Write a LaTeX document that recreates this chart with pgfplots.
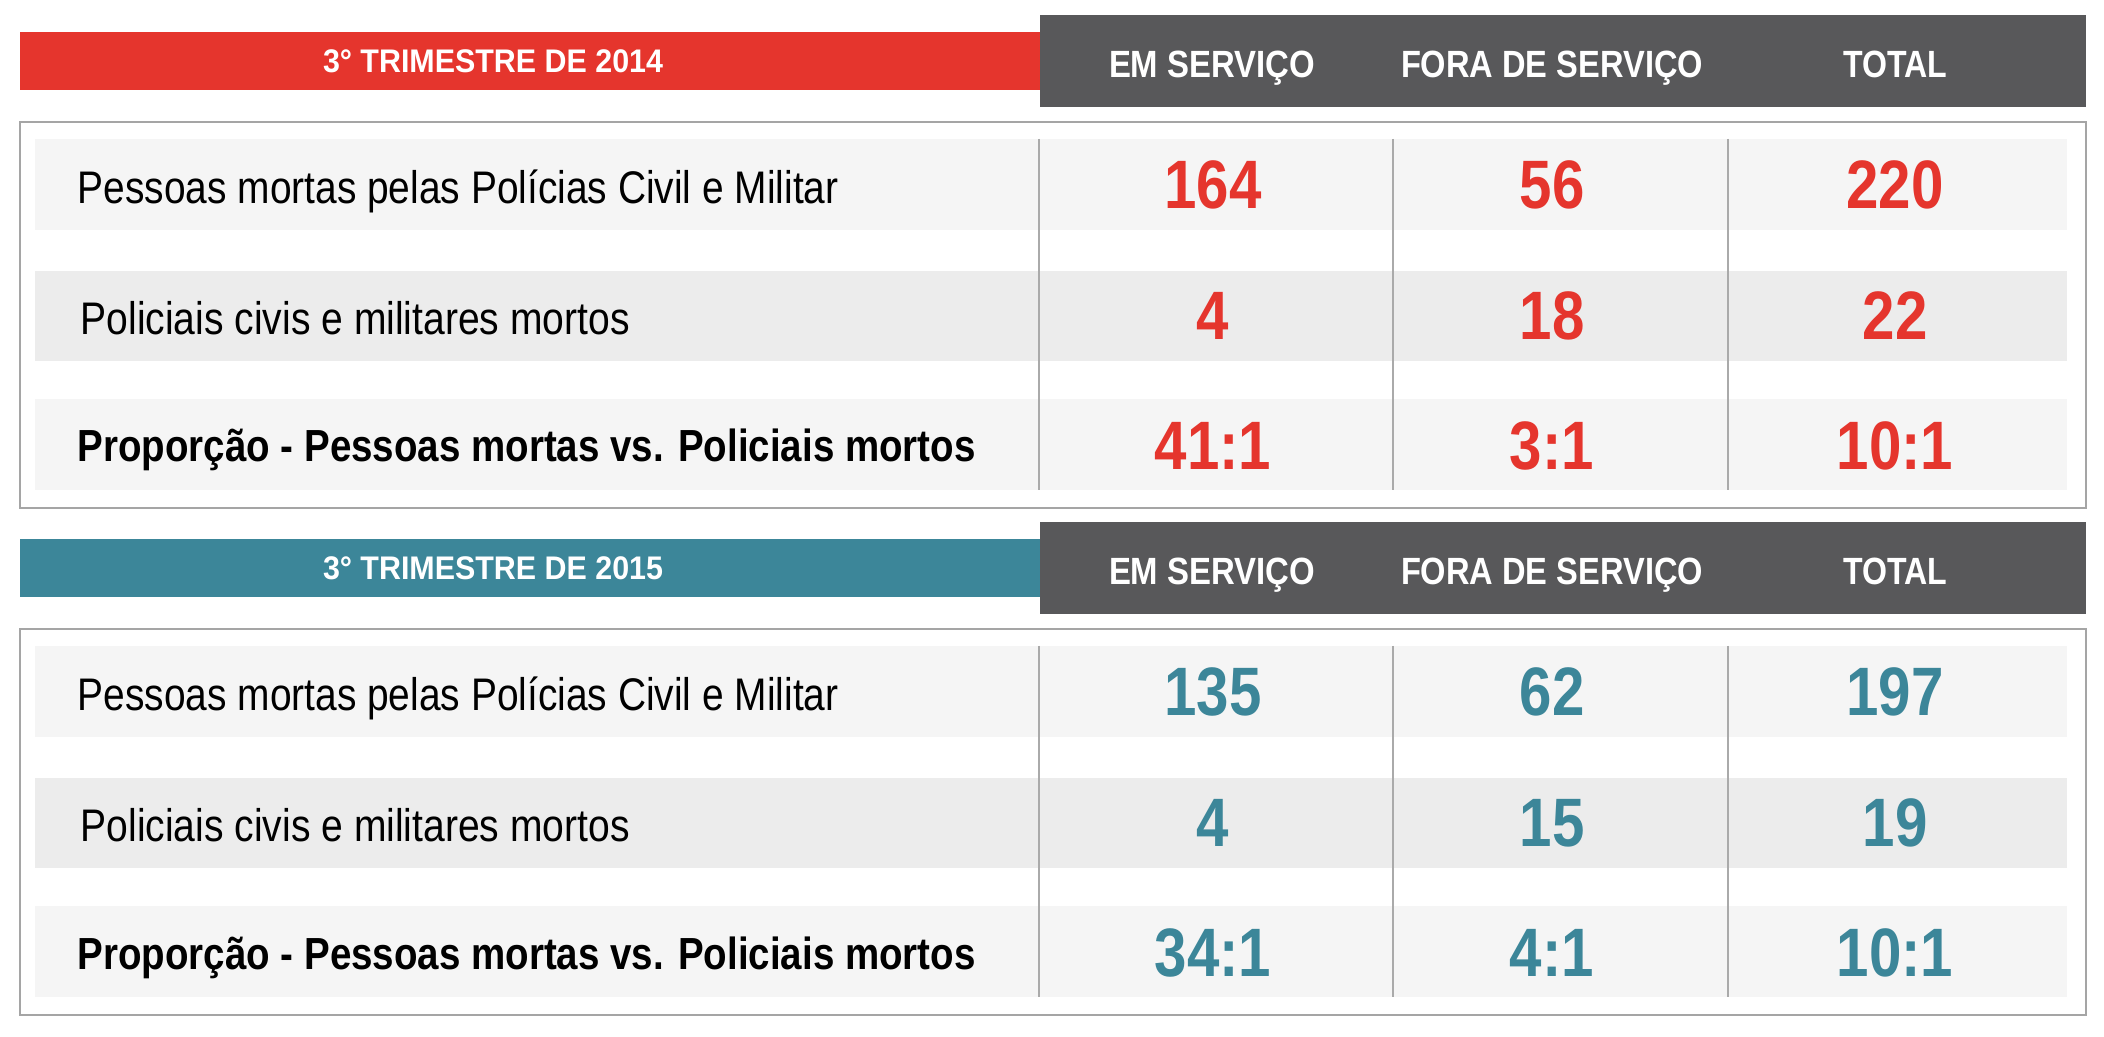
\documentclass[border=0pt]{standalone}
\usepackage{pgfplots}
\pgfplotsset{compat=1.18}
\usepackage{pgfplotstable}
\usepackage{graphicx}
\usepackage{fontspec}
\setmainfont{Liberation Sans}
\newfontfamily\numfont[FakeStretch=0.85]{Liberation Sans}
\definecolor{cred}{RGB}{229,53,45}
\definecolor{cteal}{RGB}{60,134,153}
\definecolor{cdark}{RGB}{88,88,90}
\definecolor{rowa}{RGB}{245,245,245}
\definecolor{rowb}{RGB}{236,236,236}
\definecolor{cline}{RGB}{170,170,170}
\definecolor{cbox}{RGB}{165,165,165}

\newsavebox\fitbox
\newcommand\fitx[2]{\sbox\fitbox{#2}\pgfmathsetmacro\fitfac{(#1)/(\the\wd\fitbox)}\scalebox{\fitfac}[1]{\usebox\fitbox}}

\pgfplotstableread{
x y label
1213 184.5 164
1552 184.5 56
1895 184.5 220
1213 316 4
1552 316 18
1895 316 22
1213 446 41:1
1552 446 3:1
1895 446 10:1
}\tablea
\pgfplotstableread{
x y label
1213 691.5 135
1552 691.5 62
1895 691.5 197
1213 823 4
1552 823 15
1895 823 19
1213 953 34:1
1552 953 4:1
1895 953 10:1
}\tableb

\begin{document}
\begin{tikzpicture}
\begin{axis}[width=210.4mm, height=103.7mm, scale only axis,
  xmin=0, xmax=2104, ymin=0, ymax=1037, y dir=reverse, hide axis, clip=false]
\fill[white] (axis cs:0,0) rectangle (axis cs:2104,1037);
% ---------- Section 2014 ----------
\draw[cbox, line width=0.2mm] (axis cs:20,122) rectangle (axis cs:2086,508);
\fill[rowa] (axis cs:35,139) rectangle (axis cs:2067,230);
\fill[rowb] (axis cs:35,271) rectangle (axis cs:2067,361);
\fill[rowa] (axis cs:35,399) rectangle (axis cs:2067,490);
\draw[cline, line width=0.15mm] (axis cs:1039,139) -- (axis cs:1039,490);
\draw[cline, line width=0.15mm] (axis cs:1393,139) -- (axis cs:1393,490);
\draw[cline, line width=0.15mm] (axis cs:1728,139) -- (axis cs:1728,490);
\fill[cred] (axis cs:20,32) rectangle (axis cs:1040,90);
\fill[cdark] (axis cs:1040,15) rectangle (axis cs:2086,107);
\node[anchor=base, inner sep=0, text=white, font=\bfseries\fontsize{9.3}{9.3}\selectfont] at (axis cs:493,73) {\fitx{34mm}{3° TRIMESTRE DE 2014}};
\node[anchor=base, inner sep=0, text=white, font=\bfseries\fontsize{10.8}{10.8}\selectfont] at (axis cs:1212,78) {\fitx{20.6mm}{EM SERVIÇO}};
\node[anchor=base, inner sep=0, text=white, font=\bfseries\fontsize{10.8}{10.8}\selectfont] at (axis cs:1552,78) {\fitx{30.2mm}{FORA DE SERVIÇO}};
\node[anchor=base, inner sep=0, text=white, font=\bfseries\fontsize{10.8}{10.8}\selectfont] at (axis cs:1895,78) {\fitx{10.4mm}{TOTAL}};
\node[anchor=base west, inner sep=0, font=\fontsize{13}{13}\selectfont] at (axis cs:77,204) {\fitx{76.1mm}{Pessoas mortas pelas Polícias Civil e Militar}};
\node[anchor=base west, inner sep=0, font=\fontsize{13}{13}\selectfont] at (axis cs:80,335) {\fitx{54.9mm}{Policiais civis e militares mortos}};
\node[anchor=base west, inner sep=0, font=\bfseries\fontsize{12.8}{12.8}\selectfont] at (axis cs:77,462) {\fitx{89.8mm}{Proporção - Pessoas mortas vs. Policiais mortos}};
% ---------- Section 2015 ----------
\draw[cbox, line width=0.2mm] (axis cs:20,629) rectangle (axis cs:2086,1015);
\fill[rowa] (axis cs:35,646) rectangle (axis cs:2067,737);
\fill[rowb] (axis cs:35,778) rectangle (axis cs:2067,868);
\fill[rowa] (axis cs:35,906) rectangle (axis cs:2067,997);
\draw[cline, line width=0.15mm] (axis cs:1039,646) -- (axis cs:1039,997);
\draw[cline, line width=0.15mm] (axis cs:1393,646) -- (axis cs:1393,997);
\draw[cline, line width=0.15mm] (axis cs:1728,646) -- (axis cs:1728,997);
\fill[cteal] (axis cs:20,539) rectangle (axis cs:1040,597);
\fill[cdark] (axis cs:1040,522) rectangle (axis cs:2086,614);
\node[anchor=base, inner sep=0, text=white, font=\bfseries\fontsize{9.3}{9.3}\selectfont] at (axis cs:493,580) {\fitx{34mm}{3° TRIMESTRE DE 2015}};
\node[anchor=base, inner sep=0, text=white, font=\bfseries\fontsize{10.8}{10.8}\selectfont] at (axis cs:1212,585) {\fitx{20.6mm}{EM SERVIÇO}};
\node[anchor=base, inner sep=0, text=white, font=\bfseries\fontsize{10.8}{10.8}\selectfont] at (axis cs:1552,585) {\fitx{30.2mm}{FORA DE SERVIÇO}};
\node[anchor=base, inner sep=0, text=white, font=\bfseries\fontsize{10.8}{10.8}\selectfont] at (axis cs:1895,585) {\fitx{10.4mm}{TOTAL}};
\node[anchor=base west, inner sep=0, font=\fontsize{13}{13}\selectfont] at (axis cs:77,711) {\fitx{76.1mm}{Pessoas mortas pelas Polícias Civil e Militar}};
\node[anchor=base west, inner sep=0, font=\fontsize{13}{13}\selectfont] at (axis cs:80,842) {\fitx{54.9mm}{Policiais civis e militares mortos}};
\node[anchor=base west, inner sep=0, font=\bfseries\fontsize{12.8}{12.8}\selectfont] at (axis cs:77,969) {\fitx{89.8mm}{Proporção - Pessoas mortas vs. Policiais mortos}};
% ---------- Values ----------
\addplot[draw=none, mark=none, nodes near coords, point meta=explicit symbolic,
  every node near coord/.append style={anchor=center, inner sep=0, text=cred, font=\numfont\bfseries\fontsize{19.5}{19.5}\selectfont}]
  table[x=x, y=y, meta=label] {\tablea};
\addplot[draw=none, mark=none, nodes near coords, point meta=explicit symbolic,
  every node near coord/.append style={anchor=center, inner sep=0, text=cteal, font=\numfont\bfseries\fontsize{19.5}{19.5}\selectfont}]
  table[x=x, y=y, meta=label] {\tableb};
\end{axis}
\end{tikzpicture}
\end{document}
